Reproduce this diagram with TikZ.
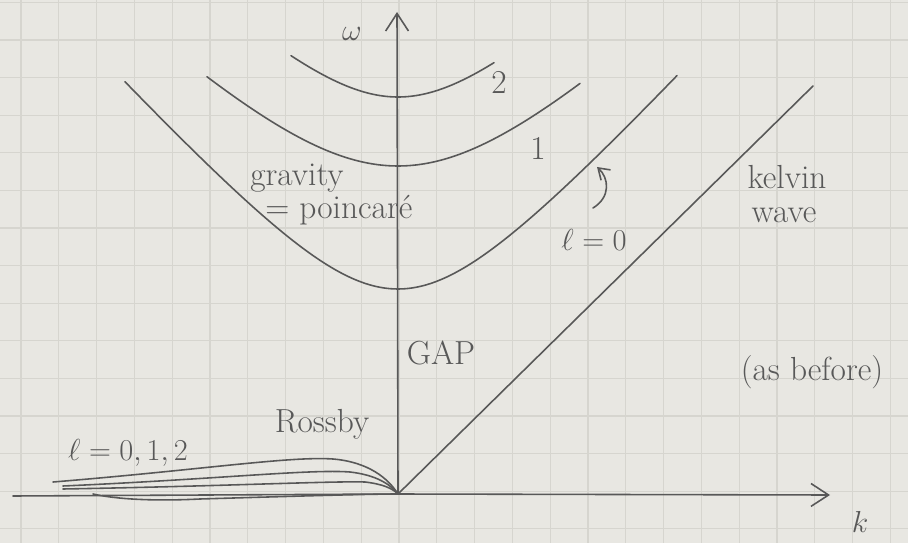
\documentclass[tikz,border=0pt]{standalone}
\usepackage{amsmath}
\usepackage{tikz}
\usetikzlibrary{arrows.meta,positioning}
\definecolor{paper}{HTML}{E8E7E2}
\definecolor{gridc}{HTML}{D6D5CF}
\definecolor{pencil}{HTML}{585858}

\begin{document}
\begin{tikzpicture}[x=0.02cm, y=-0.02cm,
    pen/.style={draw=pencil, line width=0.9pt, line cap=round, line join=round},
    axis/.style={pen, -{Straight Barb[length=10pt, width=13pt]}},
    curly/.style={pen, -{Straight Barb[length=6pt, width=8pt]}},
    hand/.style={text=pencil, font=\fontsize{19}{22}\selectfont, inner sep=0pt},
    gridline/.style={draw=gridc, line width=0.6pt},
]
    \fill[paper] (0,0) rectangle (908,543);
    \useasboundingbox (0,0) rectangle (908,543);
    \foreach \gx in {0,...,23} \draw[gridline] ({21+37.8*\gx},0) -- ({21+37.8*\gx},543);
    \foreach \gy in {0,...,14} \draw[gridline] (0,{2.4+37.6*\gy}) -- (908,{2.4+37.6*\gy});

    \coordinate (O) at (398,494);
    \coordinate (wtop) at (397,12);
    \coordinate (kleft) at (13,496);
    \coordinate (kend) at (830,495);
    \coordinate (kelvtop) at (813,86);

    \draw[axis] (O) -- (wtop);
    \draw[pen] (kleft) -- (O);
    \draw[axis] (O) -- (kend);
    \draw[pen] (O) -- (kelvtop);

    \draw[pen] plot[domain=-273:279, samples=80, smooth] ({398+\x}, {289 - (100*sqrt(1.2996 + (0.011*\x)*(0.011*\x)) - 114)});
    \draw[pen] plot[domain=-191:182, samples=60, smooth] ({398+\x}, {166 - (100*sqrt(1.96 + (0.0095*\x)*(0.0095*\x)) - 140)});
    \draw[pen] plot[domain=-107:96, samples=40, smooth] ({398+\x}, {97 - (100*sqrt(0.839 + (0.009*\x)*(0.009*\x)) - 91.6)});

    \draw[pen] (53,482) .. controls (200,470) and (290,456) .. (333,459) .. controls (368,462) and (388,478) .. (O);
    \draw[pen] (63,486) .. controls (220,479) and (310,469) .. (350,472) .. controls (376,475) and (390,484) .. (O);
    \draw[pen] (63,489) .. controls (230,486) and (330,481) .. (365,482) .. controls (382,484) and (392,488) .. (O);
    \draw[pen] (93,494) .. controls (120,500) and (160,501) .. (200,499) .. controls (300,496) and (370,494) .. (O);

    \coordinate (curlS) at (593,208);
    \coordinate (curlE) at (597,167);
    \draw[curly] (curlS) .. controls (611,197) and (609,178) .. (curlE);

    \node[hand] (omega) at (352,34) {$\omega$};
    \node[hand] (kx) at (860,522) {$k$};
    \node[hand] (two) at (499,82) {2};
    \node[hand] (one) at (538,148) {1};
    \node[hand] (lzero) at (594,240) {$\ell=0$};
    \node[hand, anchor=west] (grav) at (250,178) {gravity};
    \node[hand, anchor=west] (poinc) at (265,210) {= poincaré};
    \node[hand] (kelv) at (787,177) {kelvin};
    \node[hand] (wave) at (784,215) {wave};
    \node[hand] (gap) at (441,353) {GAP};
    \node[hand] (before) at (812,372) {(as before)};
    \node[hand] (rossby) at (322,424) {Rossby};
    \node[hand] (lall) at (128,453) {$\ell=0,1,2$};
\end{tikzpicture}
\end{document}
